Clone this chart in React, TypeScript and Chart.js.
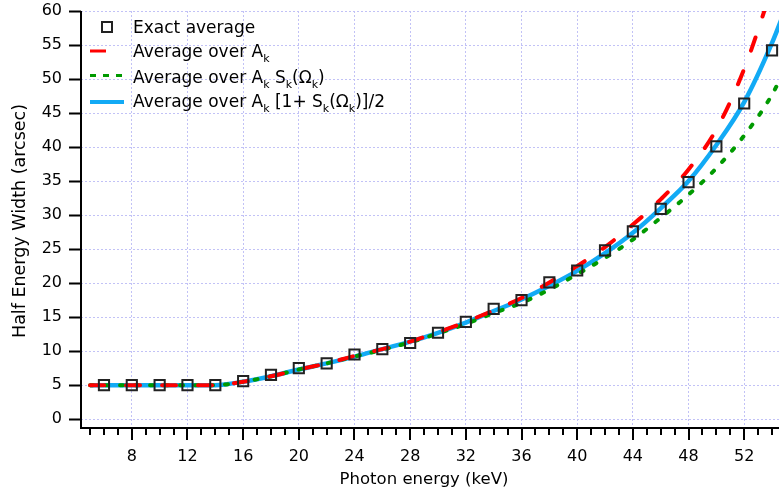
import React, { useEffect, useRef } from 'react';
import { Chart, registerables } from 'chart.js';

Chart.register(...registerables);

// ---- Data ----
const CURVE_ENERGY = [5, 6, 8, 10, 12, 14, 16, 18, 20, 22, 24, 26, 28, 30, 32, 34, 36, 38, 40, 42, 44, 46, 48, 50, 52, 54, 55];
const HEW_AVG_AK = [5, 5, 5, 5, 5, 5, 5.5, 6.3, 7.3, 8.2, 9.3, 10.3, 11.4, 12.8, 14.3, 16.0, 17.8, 20.1, 22.5, 25.3, 28.6, 32.3, 36.7, 42.6, 51.5, 63.5, 70];
const HEW_AVG_AK_SK = [5, 5, 5, 5, 5, 5, 5.5, 6.3, 7.3, 8.2, 9.2, 10.2, 11.3, 12.6, 14.0, 15.6, 17.1, 19.05, 21.3, 23.7, 26.4, 29.6, 33.0, 36.9, 41.7, 47.7, 51.8];
const HEW_AVG_AK_HALF = [5, 5, 5, 5, 5, 5, 5.5, 6.3, 7.3, 8.2, 9.2, 10.3, 11.4, 12.7, 14.2, 15.9, 17.6, 19.6, 21.8, 24.4, 27.4, 31.0, 35.0, 40.3, 46.6, 55.3, 60.5];

const EXACT_ENERGY = [6, 8, 10, 12, 14, 16, 18, 20, 22, 24, 26, 28, 30, 32, 34, 36, 38, 40, 42, 44, 46, 48, 50, 52, 54];
const EXACT_HEW = [5, 5, 5, 5, 5, 5.6, 6.5, 7.5, 8.2, 9.5, 10.3, 11.2, 12.7, 14.3, 16.2, 17.5, 20.1, 21.85, 24.8, 27.6, 30.9, 34.85, 40.1, 46.4, 54.2];

const X_MAJOR_TICKS = [8, 12, 16, 20, 24, 28, 32, 36, 40, 44, 48, 52];
const X_MINOR_TICKS = [5, 6, 7, 9, 10, 11, 13, 14, 15, 17, 18, 19, 21, 22, 23, 25, 26, 27, 29, 30, 31, 33, 34, 35, 37, 38, 39, 41, 42, 43, 45, 46, 47, 49, 50, 51, 53, 54];
const Y_TICKS = [0, 5, 10, 15, 20, 25, 30, 35, 40, 45, 50, 55, 60];

const X_TITLE = 'Photon energy (keV)';
const Y_TITLE = 'Half Energy Width (arcsec)';

// legend labels as [text, isSubscript] segments
const LEGEND_EXACT: [string, boolean][] = [['Exact average', false]];
const LEGEND_AK: [string, boolean][] = [['Average over A', false], ['k', true]];
const LEGEND_AK_SK: [string, boolean][] = [['Average over A', false], ['k', true], [' S', false], ['k', true], ['(Ω', false], ['k', true], [')', false]];
const LEGEND_AK_HALF: [string, boolean][] = [['Average over A', false], ['k', true], [' [1+ S', false], ['k', true], ['(Ω', false], ['k', true], [')]/2', false]];

const RED = '#ff0000';
const GREEN = '#009a00';
const BLUE = '#12aaf5';
const GRID = '#c2c2f6';
const FONT = '"DejaVu Sans", Verdana, sans-serif';

const toXY = (xs: number[], ys: number[]) => xs.map((x, i) => ({ x, y: ys[i] }));

const decorPlugin = {
  id: 'decor',
  afterDraw(chart: any) {
    const { ctx, chartArea: a, scales } = chart;
    const xs = scales.x;
    const ys = scales.y;
    ctx.save();
    ctx.strokeStyle = '#000';
    ctx.lineWidth = 2;
    ctx.lineCap = 'butt';
    ctx.beginPath();
    ctx.moveTo(a.left, a.top);
    ctx.lineTo(a.left, a.bottom + 1);
    ctx.moveTo(a.left - 1, a.bottom);
    ctx.lineTo(a.right, a.bottom);
    X_MAJOR_TICKS.forEach((v) => {
      const px = Math.round(xs.getPixelForValue(v));
      ctx.moveTo(px, a.bottom);
      ctx.lineTo(px, a.bottom + 12);
    });
    X_MINOR_TICKS.forEach((v) => {
      const px = Math.round(xs.getPixelForValue(v));
      ctx.moveTo(px, a.bottom);
      ctx.lineTo(px, a.bottom + 7);
    });
    Y_TICKS.forEach((v) => {
      const py = Math.round(ys.getPixelForValue(v)) + 0.5;
      ctx.moveTo(a.left, py);
      ctx.lineTo(a.left - 12, py);
    });
    ctx.stroke();

    // titles
    ctx.fillStyle = '#000';
    ctx.textAlign = 'center';
    ctx.textBaseline = 'middle';
    ctx.font = `16.5px ${FONT}`;
    ctx.fillText(X_TITLE, 424, 480);
    ctx.save();
    ctx.font = `17.5px ${FONT}`;
    ctx.translate(20, 221);
    ctx.rotate(-Math.PI / 2);
    ctx.fillText(Y_TITLE, 0, 0);
    ctx.restore();

    // legend
    const drawText = (segs: [string, boolean][], x: number, baseline: number) => {
      ctx.textAlign = 'left';
      ctx.textBaseline = 'alphabetic';
      let cx = x;
      segs.forEach(([t, sub]) => {
        ctx.font = sub ? `11px ${FONT}` : `17px ${FONT}`;
        ctx.fillText(t, cx, baseline + (sub ? 5 : 0));
        cx += ctx.measureText(t).width;
      });
    };
    const lx0 = 90;
    const lx1 = 124;
    const tx = 133;
    ctx.lineWidth = 2;
    ctx.strokeStyle = '#222';
    ctx.strokeRect(102, 22, 10, 10);
    drawText(LEGEND_EXACT, tx, 33);
    ctx.lineWidth = 3;
    ctx.strokeStyle = RED;
    ctx.setLineDash([16, 22]);
    ctx.beginPath();
    ctx.moveTo(lx0, 51);
    ctx.lineTo(lx1, 51);
    ctx.stroke();
    drawText(LEGEND_AK, tx, 57);
    ctx.strokeStyle = GREEN;
    ctx.setLineDash([6, 7]);
    ctx.beginPath();
    ctx.moveTo(lx0, 75.5);
    ctx.lineTo(lx1, 75.5);
    ctx.stroke();
    drawText(LEGEND_AK_SK, tx, 82.5);
    ctx.setLineDash([]);
    ctx.lineWidth = 4;
    ctx.strokeStyle = BLUE;
    ctx.beginPath();
    ctx.moveTo(lx0, 102);
    ctx.lineTo(lx1, 102);
    ctx.stroke();
    drawText(LEGEND_AK_HALF, tx, 107);
    ctx.restore();
  },
};

export default function App() {
  const ref = useRef<HTMLCanvasElement | null>(null);

  useEffect(() => {
    if (!ref.current) return;
    const chart = new Chart(ref.current, {
      type: 'line',
      data: {
        datasets: [
          {
            label: 'Exact average',
            data: toXY(EXACT_ENERGY, EXACT_HEW),
            showLine: false,
            pointStyle: 'rect',
            pointRadius: 7.2,
            pointBorderWidth: 2,
            pointBorderColor: '#222',
            pointBackgroundColor: 'rgba(0,0,0,0)',
            borderColor: '#222',
            order: 0,
          },
          {
            label: 'Average over Ak',
            data: toXY(CURVE_ENERGY, HEW_AVG_AK),
            borderColor: RED,
            borderWidth: 4,
            borderDash: [14, 22],
            borderCapStyle: 'round',
            pointRadius: 0,
            cubicInterpolationMode: 'monotone',
            clip: 0,
            order: 1,
          },
          {
            label: 'Average over Ak Sk',
            data: toXY(CURVE_ENERGY, HEW_AVG_AK_SK),
            borderColor: GREEN,
            borderWidth: 4,
            borderDash: [3, 12],
            borderCapStyle: 'round',
            pointRadius: 0,
            cubicInterpolationMode: 'monotone',
            clip: 0,
            order: 2,
          },
          {
            label: 'Average over Ak [1+Sk]/2',
            data: toXY(CURVE_ENERGY, HEW_AVG_AK_HALF),
            borderColor: BLUE,
            borderWidth: 4.5,
            pointRadius: 0,
            cubicInterpolationMode: 'monotone',
            clip: 0,
            order: 3,
          },
        ] as any,
      },
      options: {
        responsive: false,
        animation: false,
        events: [],
        layout: { autoPadding: false, padding: { top: 11, right: 0, bottom: 0, left: 0 } },
        plugins: { legend: { display: false }, tooltip: { enabled: false } },
        scales: {
          x: {
            type: 'linear',
            min: 4.35,
            max: 54.5,
            afterBuildTicks: (s: any) => {
              s.ticks = X_MAJOR_TICKS.map((v) => ({ value: v }));
            },
            afterFit: (s: any) => {
              s.height = 67;
              s.paddingLeft = 0;
              s.paddingRight = 0;
            },
            grid: { color: GRID, lineWidth: 1, drawTicks: false },
            border: { display: false, dash: [2, 2] },
            ticks: {
              autoSkip: false,
              maxRotation: 0,
              padding: 19,
              color: '#000',
              font: { family: FONT, size: 16 },
              callback: (v: any) => String(v),
            },
          },
          y: {
            type: 'linear',
            min: -1.3,
            max: 60,
            afterBuildTicks: (s: any) => {
              s.ticks = Y_TICKS.map((v) => ({ value: v }));
            },
            afterFit: (s: any) => {
              s.width = 81;
              s.paddingTop = 0;
              s.paddingBottom = 0;
            },
            grid: { color: GRID, lineWidth: 1, drawTicks: false },
            border: { display: false, dash: [2, 2] },
            ticks: {
              padding: 19,
              color: '#000',
              font: { family: FONT, size: 16 },
              callback: (v: any) => String(v),
            },
          },
        },
      } as any,
      plugins: [decorPlugin],
    });
    return () => chart.destroy();
  }, []);

  return (
    <div style={{ position: 'absolute', left: 0, top: 0, width: 779, height: 495, background: '#fff' }}>
      <canvas ref={ref} width={779} height={495} />
    </div>
  );
}
